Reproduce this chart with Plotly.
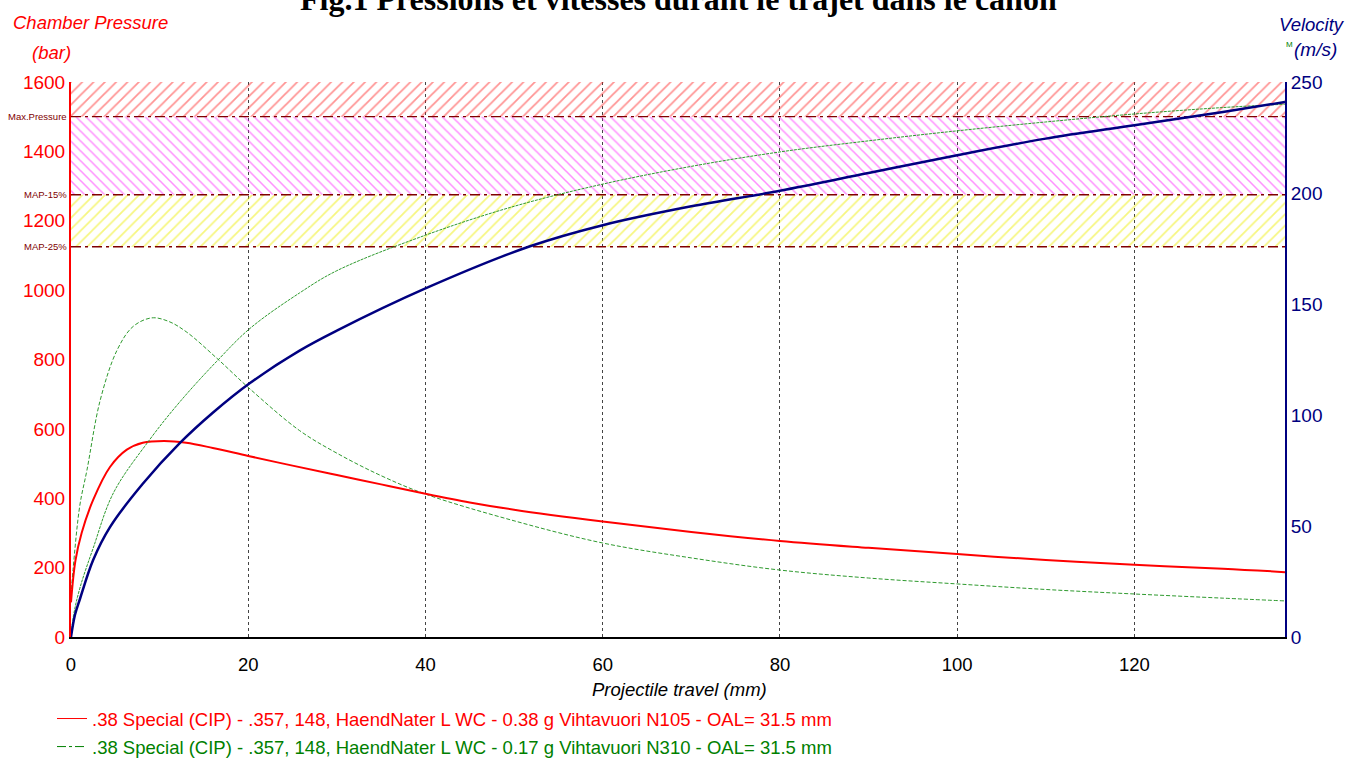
import plotly.graph_objects as go

# ---------------- data ----------------
x_ticks = [0, 20, 40, 60, 80, 100, 120]
x_max = 137
p_ticks = [0, 200, 400, 600, 800, 1000, 1200, 1400, 1600]
v_ticks = [0, 50, 100, 150, 200, 250]

max_pressure = 1500
map15 = 1275
map25 = 1125
p_top = 1600
v_top = 250

# N105 pressure (bar)
red_x = [0, 0.5, 1.2, 2.5, 4.4, 6.3, 8.1, 10.5, 13, 16, 20, 25, 30, 35, 40, 45, 50, 60, 70, 80, 90, 100, 110, 120, 130, 137]
red_p = [100, 220, 300, 395, 490, 540, 560, 565, 560, 545, 522, 494, 467, 440, 413, 388, 367, 333, 303, 277, 257, 239, 222, 208, 197, 187]

# N310 pressure (bar)
grn_x = [0, 0.25, 1.0, 1.8, 3.3, 5.2, 7, 9.1, 11, 13, 16.4, 20.2, 25.8, 30, 35, 40, 50, 60, 70, 80, 90, 100, 110, 120, 130, 137]
grn_p = [120, 200, 380, 481, 683, 827, 895, 920, 910, 880, 805, 715, 595, 530, 465, 412, 335, 271, 228, 193, 170, 153, 137, 124, 112, 104]

# N105 velocity (m/s)
nav_x = [0, 0.45, 1, 2.5, 4.4, 8.1, 12.3, 16, 20.2, 25.8, 30, 40, 51.8, 60, 70, 80, 90, 100, 110, 120, 130, 137]
nav_v = [0, 10, 17, 34.7, 49.5, 69, 87.4, 101, 114.4, 129, 138, 157, 176, 185.5, 194, 201, 209, 217, 224.5, 230.5, 236.5, 241]

# N310 velocity (m/s)
gv_x = [0, 0.3, 1, 2.5, 4.8, 8.9, 12.3, 16.4, 20.2, 25.8, 30, 40, 50, 60, 70, 80, 90, 100, 110, 120, 130, 137]
gv_v = [0, 10, 22, 40, 65, 89, 106, 124, 139, 155, 165, 181, 194, 204, 212, 218.5, 223.5, 228, 232, 235.6, 238.5, 240]

legend_names = [
    ".38 Special (CIP) - .357, 148, HaendNater L WC - 0.38 g Vihtavuori N105 - OAL= 31.5 mm",
    ".38 Special (CIP) - .357, 148, HaendNater L WC - 0.17 g Vihtavuori N310 - OAL= 31.5 mm",
]

# ---------------- figure ----------------
RED = "#FF0000"
GREEN = "#008000"
NAVY = "#000080"
MAROON = "#800000"
FONT = "Liberation Sans, Arial, sans-serif"

fig = go.Figure()

# hatched bands
bands = [
    (max_pressure, p_top - max_pressure, "/", "#FF2828", 8),
    (map15, max_pressure - map15, "\\", "#FF20FF", 7),
    (map25, map15 - map25, "/", "#EEEE00", 8),
]
for base, h, shp, col, sz in bands:
    fig.add_trace(go.Bar(
        x=[x_max / 2], y=[h], base=[base], width=[x_max],
        marker=dict(color="rgba(0,0,0,0)", line=dict(width=0),
                    pattern=dict(shape=shp, fgcolor=col, bgcolor="rgba(0,0,0,0)",
                                 size=sz, solidity=0.22, fillmode="overlay")),
        showlegend=False, hoverinfo="skip", yaxis="y"))

# dash-dot level lines
for lvl in [max_pressure, map15, map25]:
    fig.add_trace(go.Scatter(x=[0, x_max], y=[lvl, lvl], mode="lines",
                             line=dict(color=MAROON, width=1.3, dash="10px,4px,3px,4px"),
                             showlegend=False, hoverinfo="skip", yaxis="y"))

# curves
fig.add_trace(go.Scatter(x=gv_x, y=gv_v, mode="lines", yaxis="y2",
                         line=dict(color="#2E9A2E", width=1, dash="3px,1px", shape="spline"),
                         showlegend=False))
fig.add_trace(go.Scatter(x=grn_x, y=grn_p, mode="lines", yaxis="y",
                         line=dict(color="#2E9A2E", width=1, dash="4px,2px", shape="spline"),
                         showlegend=False))
fig.add_trace(go.Scatter(x=red_x, y=red_p, mode="lines", yaxis="y",
                         line=dict(color=RED, width=2, shape="spline"),
                         showlegend=False))
fig.add_trace(go.Scatter(x=nav_x, y=nav_v, mode="lines", yaxis="y2",
                         line=dict(color=NAVY, width=2.5, shape="spline"),
                         showlegend=False))

# legend entries
fig.add_trace(go.Scatter(x=[None], y=[None], mode="lines", yaxis="y",
                         line=dict(color=RED, width=1),
                         name=f'<span style="color:{RED}">{legend_names[0]}</span>',
                         legendgroup="a"))
fig.add_trace(go.Scatter(x=[None], y=[None], mode="lines", yaxis="y",
                         line=dict(color=GREEN, width=1, dash="dashdot"),
                         name=f'<span style="color:{GREEN}">{legend_names[1]}</span>',
                         legendgroup="b"))

L, R, T, B = 71, 1285, 82, 637
W, H = 1349, 758

fig.update_layout(
    width=W, height=H,
    paper_bgcolor="white", plot_bgcolor="white",
    margin=dict(l=L, r=W - R, t=T, b=H - B, autoexpand=False),
    font=dict(family=FONT, size=17, color="black"),
    barmode="overlay",
    showlegend=True,
    legend=dict(x=(52 - L) / (R - L), xanchor="left", y=(B - 700) / (B - T), yanchor="top",
                orientation="v", traceorder="grouped", tracegroupgap=1,
                font=dict(size=18.5), bgcolor="rgba(0,0,0,0)", itemwidth=30),
    xaxis=dict(range=[0, x_max], tickvals=x_ticks, showline=True, linecolor="black",
               linewidth=2, showgrid=True, gridcolor="#444444", griddash="3px,3px",
               gridwidth=1, zeroline=False, ticks="", ticklabelstandoff=10,
               tickfont=dict(size=18.5, color="black")),
    yaxis=dict(range=[0, p_top], tickvals=p_ticks, showline=True, linecolor=RED,
               linewidth=2, showgrid=False, zeroline=False, ticks="",
               tickfont=dict(size=19, color=RED)),
    yaxis2=dict(range=[0, v_top], tickvals=v_ticks, overlaying="y", side="right",
                showline=True, linecolor=NAVY, linewidth=2, showgrid=False,
                zeroline=False, ticks="", tickfont=dict(size=19, color=NAVY)),
)

def px(xp):
    return (xp - L) / (R - L)
def py(yp):
    return (B - yp) / (B - T)

anns = [
    dict(text="<b>Fig.1 Pressions et vitesses durant le trajet dans le canon</b>",
         x=px(678.5), y=py(19), xanchor="center", yanchor="bottom",
         font=dict(family="Liberation Serif, Times New Roman, serif", size=32, color="black")),
    dict(text="<i>Chamber Pressure</i>", x=px(11), y=py(22), xanchor="left", yanchor="middle",
         font=dict(size=18.5, color=RED)),
    dict(text="<i>(bar)</i>", x=px(30), y=py(52), xanchor="left", yanchor="middle",
         font=dict(size=18.5, color=RED)),
    dict(text="<i>Velocity</i>", x=px(1347), y=py(25), xanchor="right", yanchor="middle",
         font=dict(size=18.5, color=NAVY)),
    dict(text="<i>(m/s)</i>", x=px(1292), y=py(50), xanchor="left", yanchor="middle",
         font=dict(size=19, color=NAVY)),
    dict(text="M", x=px(1284), y=py(44), xanchor="left", yanchor="middle",
         font=dict(size=8, color=GREEN)),
    dict(text="<i>Projectile travel (mm)</i>", x=px(679), y=py(689), xanchor="center",
         yanchor="middle", font=dict(size=18.5, color="black")),
]
for a in anns:
    a.update(xref="paper", yref="paper", showarrow=False)
    fig.add_annotation(**a)

for lbl, lvl in [("Max.Pressure", max_pressure), ("MAP-15%", map15), ("MAP-25%", map25)]:
    fig.add_annotation(text=lbl, xref="paper", yref="y", x=px(69), y=lvl,
                       xanchor="right", yanchor="middle", showarrow=False,
                       font=dict(size=9.5, color=MAROON))

fig.write_html("out.html", config={"displayModeBar": False},
               post_script="document.body.style.margin='0';")
